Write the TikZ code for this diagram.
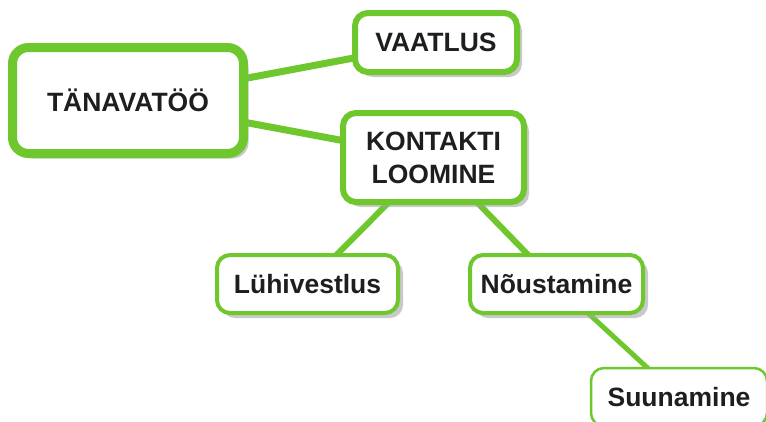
\documentclass[tikz,border=0pt]{standalone}
\usepackage{fontspec}
\setmainfont{Liberation Sans}
\usetikzlibrary{shadows,backgrounds}
\definecolor{lime}{RGB}{110,200,45}
\definecolor{ink}{RGB}{30,30,30}
\begin{document}
\begin{tikzpicture}[x=1pt,y=-1pt,
  box/.style={draw=lime, fill=white, rounded corners=13pt, align=center,
    inner sep=0pt, text=ink, font=\fontsize{26.5}{33}\selectfont\bfseries,
    drop shadow={shadow xshift=5pt, shadow yshift=-5pt, fill=black!35, opacity=0.6}},
  link/.style={draw=lime, line width=6pt}]
\useasboundingbox (0,0) rectangle (766,421);
\clip (0,0) rectangle (766,421);
\node[box, line width=9pt, minimum width=231pt, minimum height=106pt, rounded corners=16pt] (t) at (128,100.5) {TÄNAVATÖÖ};
\node[box, line width=6pt, minimum width=162pt, minimum height=59pt] (v) at (436,42.5) {VAATLUS};
\node[box, line width=6pt, minimum width=181pt, minimum height=89pt] (k) at (433.5,157.5) {KONTAKTI\\LOOMINE};
\node[box, line width=4pt, minimum width=181pt, minimum height=58pt] (l) at (307.5,284) {Lühivestlus};
\node[box, line width=4pt, minimum width=173pt, minimum height=58pt] (n) at (556.5,284) {Nõustamine};
\node[box, line width=2.5pt, minimum width=176pt, minimum height=58pt, drop shadow={opacity=0}] (s) at (679,397) {Suunamine};
\begin{scope}[on background layer]
\fill[white] (0,0) rectangle (766,421);
\draw[link, line width=7pt] (t.center) -- (v.center);
\draw[link, line width=7pt] (t.center) -- (k.center);
\draw[link] (k.center) -- (l.center);
\draw[link] (k.center) -- (n.center);
\draw[link, line width=5pt] (n.center) -- (s.center);
\end{scope}
\end{tikzpicture}
\end{document}
